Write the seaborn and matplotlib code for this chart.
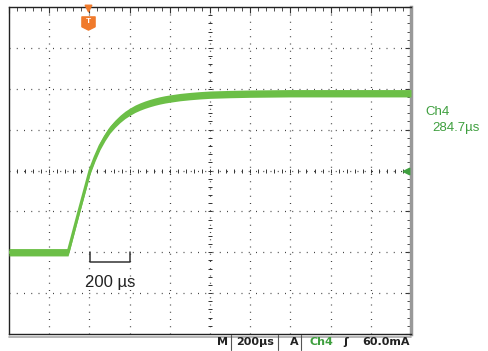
import numpy as np
import matplotlib
matplotlib.use("Agg")
import matplotlib.pyplot as plt
from matplotlib.lines import Line2D
from matplotlib.path import Path
import seaborn as sns

# trace: time in microseconds, level in divisions
TIME_US = [0, 100, 200, 294, 348, 380, 403, 428, 453, 478, 502, 527, 552,
           577, 602, 627, 652, 676, 701, 726, 751, 776, 801, 850, 900, 950,
           1000, 1100, 1200, 1400, 1600, 1800, 2000]
LEVEL_DIV = [-2.0, -2.0, -2.0, -2.0, -1.0, -0.42, 0.0, 0.32, 0.60, 0.82,
             1.0, 1.14, 1.26, 1.36, 1.44, 1.51, 1.565, 1.61, 1.65, 1.685,
             1.715, 1.74, 1.76, 1.795, 1.82, 1.84, 1.855, 1.87, 1.88, 1.89,
             1.89, 1.89, 1.89]
BAND_DIV = 0.09           # half width of the noisy trace band
TRIGGER_US = 393
SCALE_LABEL = "200 µs"
CURSOR_LABELS = ["Ch4", "284.7µs"]
STATUS = ["M", "200µs", "A", "Ch4", "ʃ", "60.0mA"]

TRACE = "#6cbf47"
GREEN_TXT = "#3f9f3f"
ORANGE = "#f07a2c"

sns.set_style("white")
plt.rcParams['font.family'] = ['Liberation Sans', 'DejaVu Sans']

fig = plt.figure(figsize=(4.88, 3.51), dpi=100)
ax = fig.add_axes([9 / 488, 1 - 334 / 351, 402 / 488, 327 / 351])
ax.set_xlim(0, 2000)
ax.set_ylim(-4, 4)

# dotted graticule
for gx in range(200, 2000, 200):
    ax.axvline(gx, color="#444444", lw=0.9, ls=(0, (0.8, 5.0)), zorder=1)
for gy in range(-3, 4):
    ax.axhline(gy, color="#444444", lw=0.9, ls=(0, (0.8, 5.0)), zorder=1)

# centre cross with fine ticks
minor_y = np.arange(-4, 4.01, 0.2)
minor_x = np.arange(0, 2000.1, 40)
ax.scatter(np.full(len(minor_y), 1000), minor_y, marker="_", s=12, lw=0.7,
           color="#333333", zorder=1)
ax.scatter(minor_x, np.zeros(len(minor_x)), marker="|", s=12, lw=0.7,
           color="#333333", zorder=1)

ax.set_xticks(range(0, 2001, 200))
ax.set_yticks(range(-4, 5))
ax.set_xticks(minor_x, minor=True)
ax.set_yticks(minor_y, minor=True)
ax.tick_params(which="both", direction="in", top=True, right=True,
               labelbottom=False, labelleft=False, color="#333333")
ax.tick_params(which="major", length=4, width=0.8)
ax.tick_params(which="minor", length=3, width=0.6)
for side in ["left", "top", "bottom"]:
    ax.spines[side].set_color("#222222")
    ax.spines[side].set_linewidth(1.0)
ax.spines["right"].set_color("#999999")
ax.spines["right"].set_linewidth(2.5)

# the trace: noisy band plus a core line
lower = [v - BAND_DIV for v in LEVEL_DIV]
upper = [v + BAND_DIV for v in LEVEL_DIV]
ax.fill_between(TIME_US, lower, upper, color=TRACE, lw=0, zorder=3)
sns.lineplot(x=TIME_US, y=LEVEL_DIV, ax=ax, color=TRACE, lw=2.2,
             sort=False, estimator=None, zorder=3)

# timing bracket
bx0, bx1 = 403, 603
ax.plot([bx0, bx0, bx1, bx1], [-2.0, -2.24, -2.24, -2.0], color="#333333",
        lw=1.1, zorder=4)
ax.text((bx0 + bx1) / 2, -2.75, SCALE_LABEL, ha="center", va="center",
        fontsize=12, color="#222222")

# trigger position marker
tmark = Path([(-1, 1), (1, 1), (1, -0.5), (0, -1), (-1, -0.5), (-1, 1)],
             [Path.MOVETO] + [Path.LINETO] * 4 + [Path.CLOSEPOLY])
ax.scatter([TRIGGER_US], [3.62], marker=tmark, s=90, color=ORANGE, zorder=5,
           clip_on=False)
ax.scatter([TRIGGER_US], [3.97], marker="v", s=22, color=ORANGE, zorder=5,
           clip_on=False)
ax.text(TRIGGER_US, 3.64, "T", ha="center", va="center", fontsize=6,
        color="white", fontweight="bold", zorder=6)

# trigger level arrow on the right edge
ax.scatter([1975], [0], marker="<", s=22, color=GREEN_TXT, zorder=5)

# cursor readout at right
fig.text(425 / 488, 1 - 112 / 351, CURSOR_LABELS[0], color=GREEN_TXT,
         fontsize=9.5, va="center", ha="left")
fig.text(432 / 488, 1 - 128 / 351, CURSOR_LABELS[1], color=GREEN_TXT,
         fontsize=9.5, va="center", ha="left")

# gray line under the screen
fig.add_artist(Line2D([9 / 488, 411 / 488], [1 - 336.5 / 351] * 2,
                      color="#aaaaaa", lw=1.2))

# status bar
sy = 1 - 342 / 351
bold = dict(fontsize=8, fontweight="bold", va="center", family=["DejaVu Sans"])
fig.text(228 / 488, sy, STATUS[0], ha="right", color="#222222", **bold)
fig.text(255 / 488, sy, STATUS[1], ha="center", color="#222222", **bold)
fig.text(299 / 488, sy, STATUS[2], ha="right", color="#222222", **bold)
fig.text(310 / 488, sy, STATUS[3], ha="left", color=GREEN_TXT, **bold)
fig.text(346 / 488, sy, STATUS[4], ha="center", color="#222222", **bold)
fig.text(410 / 488, sy, STATUS[5], ha="right", color="#222222", **bold)
for lx in [231, 278, 301]:
    fig.add_artist(Line2D([lx / 488] * 2, [1 - 350 / 351, 1 - 335 / 351],
                          color="#555555", lw=0.8))

fig.savefig("out.png", dpi=100)
